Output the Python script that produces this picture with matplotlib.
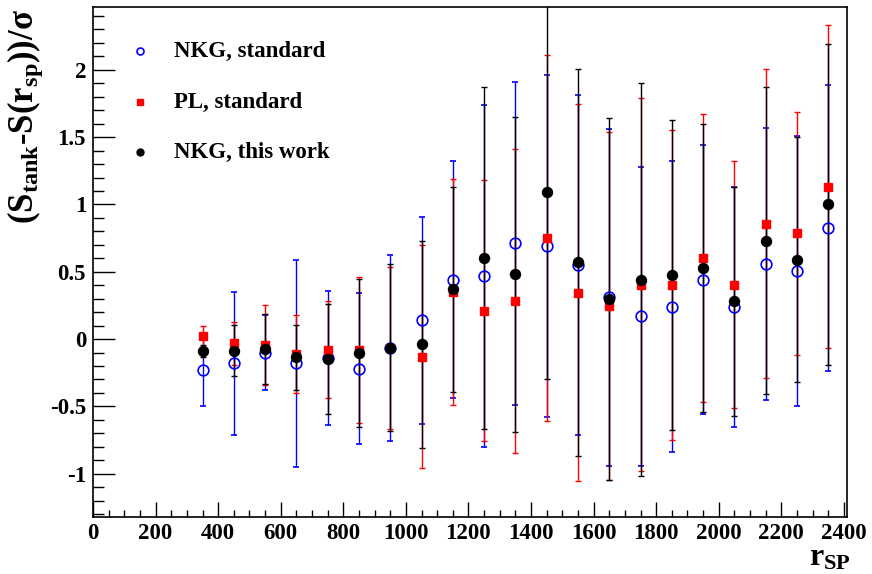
import matplotlib
matplotlib.use('Agg')
import matplotlib.pyplot as plt
from matplotlib.ticker import MultipleLocator

plt.rcParams['font.family'] = ['Liberation Serif', 'DejaVu Serif']
plt.rcParams['font.weight'] = 'bold'
plt.rcParams['mathtext.fontset'] = 'custom'
plt.rcParams['mathtext.rm'] = 'Liberation Serif:bold'
plt.rcParams['mathtext.bf'] = 'Liberation Serif:bold'
plt.rcParams['mathtext.it'] = 'Liberation Serif:bold'

# r_SP bins
r_sp = [350, 450, 550, 650, 750, 850, 950, 1050, 1150, 1250, 1350,
        1450, 1550, 1650, 1750, 1850, 1950, 2050, 2150, 2250, 2350]

# NKG, standard
nkg_std = [-0.23, -0.18, -0.10, -0.18, -0.14, -0.22, -0.065, 0.14, 0.44, 0.47, 0.71,
           0.69, 0.55, 0.31, 0.17, 0.24, 0.44, 0.24, 0.555, 0.505, 0.825]
nkg_std_err = [0.27, 0.53, 0.28, 0.77, 0.50, 0.56, 0.69, 0.77, 0.88, 1.27, 1.20,
               1.27, 1.26, 1.25, 1.11, 1.08, 1.00, 0.89, 1.01, 1.00, 1.06]

# PL, standard
pl_std = [0.02, -0.03, -0.045, -0.11, -0.08, -0.08, -0.065, -0.13, 0.35, 0.21, 0.28,
          0.75, 0.345, 0.245, 0.405, 0.40, 0.60, 0.405, 0.857, 0.785, 1.13]
pl_std_err = [0.08, 0.16, 0.30, 0.29, 0.36, 0.54, 0.60, 0.83, 0.84, 0.97, 1.13,
              1.36, 1.40, 1.29, 1.385, 1.15, 1.07, 0.92, 1.15, 0.90, 1.20]

# NKG, this work
nkg_new = [-0.087, -0.087, -0.074, -0.136, -0.15, -0.107, -0.065, -0.04, 0.37, 0.60, 0.48,
           1.09, 0.57, 0.295, 0.44, 0.476, 0.525, 0.28, 0.73, 0.59, 1.00]
nkg_new_err = [0.045, 0.19, 0.26, 0.24, 0.41, 0.55, 0.62, 0.77, 0.76, 1.27, 1.17,
               1.39, 1.44, 1.345, 1.46, 1.15, 1.07, 0.85, 1.14, 0.91, 1.19]

fig = plt.figure(figsize=(8.72, 5.74), dpi=100)
ax = fig.add_axes([93 / 872, 57 / 574, 754 / 872, 510 / 574])

ax.errorbar(r_sp, nkg_std, yerr=nkg_std_err, fmt='o', color='#0000ff', mfc='none',
            mec='#0000ff', mew=1.2, ms=7.7, elinewidth=1.0, capsize=2.5, capthick=1.0)
ax.errorbar(r_sp, pl_std, yerr=pl_std_err, fmt='s', color='#ff0000', mec='#ff0000',
            ms=5.8, elinewidth=1.0, capsize=2.5, capthick=1.0)
ax.errorbar(r_sp, nkg_new, yerr=nkg_new_err, fmt='o', color='black',
            ms=7.2, elinewidth=1.0, capsize=2.5, capthick=1.0)

ax.set_xlim(0, 2410)
ax.set_ylim(-1.322, 2.467)

ax.xaxis.set_major_locator(MultipleLocator(200))
ax.xaxis.set_minor_locator(MultipleLocator(50))
ax.yaxis.set_major_locator(MultipleLocator(0.5))
ax.yaxis.set_minor_locator(MultipleLocator(0.1))
ax.tick_params(axis='both', which='both', direction='in', top=False, right=False,
               labelsize=16.5, width=1.0)
ax.tick_params(axis='x', which='major', length=11, pad=4)
ax.tick_params(axis='x', which='minor', length=5.4)
ax.tick_params(axis='y', which='major', length=16, pad=5)
ax.tick_params(axis='y', which='minor', length=8)
ax.set_yticks([-1, -0.5, 0, 0.5, 1, 1.5, 2])
ax.set_yticklabels(['-1', '-0.5', '0', '0.5', '1', '1.5', '2'])
for s in ax.spines.values():
    s.set_linewidth(1.2)

# legend (no frame)
leg_y = [51, 102, 152]
fig.lines.append(plt.Line2D([140 / 872], [1 - leg_y[0] / 574], marker='o', mfc='none',
                            mec='#0000ff', mew=1.2, ms=5, transform=fig.transFigure))
fig.lines.append(plt.Line2D([140 / 872], [1 - leg_y[1] / 574], marker='s', mfc='#ff0000',
                            mec='#ff0000', ms=4.3, transform=fig.transFigure))
fig.lines.append(plt.Line2D([140 / 872], [1 - leg_y[2] / 574], marker='o', mfc='black',
                            mec='black', ms=5, transform=fig.transFigure))
leg_txt = ['NKG, standard', 'PL, standard', 'NKG, this work']
for t, yy in zip(leg_txt, leg_y):
    fig.text(174 / 872, 1 - yy / 574, t, fontsize=16.5, fontweight='bold',
             ha='left', va='center')

# axis titles
fig.text(25 / 872, 1 - 9 / 574, r'$\mathbf{(S_{tank}\text{-}S(r_{sp}))/\sigma}$',
         rotation=90, ha='center', va='top', fontsize=25)
fig.text(851 / 872, 1 - 566 / 574, r'$\mathbf{r_{SP}}$', ha='right', va='baseline',
         fontsize=23)

fig.savefig('out.png', dpi=100)
